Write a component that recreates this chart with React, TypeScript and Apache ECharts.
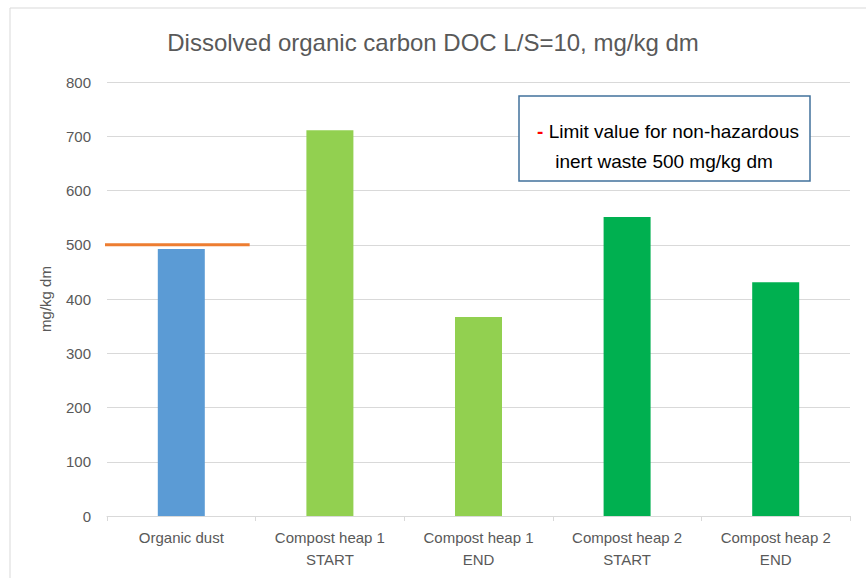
import React, { useEffect, useRef } from "react";
import * as echarts from "echarts";

const categories = [
  "Organic dust",
  "Compost heap 1\nSTART",
  "Compost heap 1\nEND",
  "Compost heap 2\nSTART",
  "Compost heap 2\nEND",
];
const values = [492, 711, 367, 551, 431];
const barColors = ["#5B9BD5", "#92D050", "#92D050", "#00B050", "#00B050"];
const limitValue = 500;
const limitSpan = [-0.05, 0.96];
const yTicks = { min: 0, max: 800, interval: 100 };

export default function App() {
  const ref = useRef<HTMLDivElement>(null);
  useEffect(() => {
    if (!ref.current) return;
    const chart = echarts.init(ref.current, null, { renderer: "svg" });
    const font = "'Liberation Sans', Arial, sans-serif";
    chart.setOption({
      animation: false,
      backgroundColor: "#fff",
      title: {
        text: "Dissolved organic carbon DOC L/S=10, mg/kg dm",
        left: "center",
        top: 25,
        textStyle: { color: "#595959", fontSize: 24, fontWeight: "normal", fontFamily: font },
      },
      grid: { left: 107, right: 16, top: 82, bottom: 62 },
      xAxis: [
        {
          type: "category",
          data: categories,
          axisLine: { lineStyle: { color: "#D9D9D9", width: 1 } },
          axisTick: { show: true, length: 5, lineStyle: { color: "#D9D9D9" } },
          axisLabel: { color: "#595959", fontSize: 15, fontFamily: font, lineHeight: 22, margin: 10 },
        },
        { type: "value", min: 0, max: 5, show: false },
      ],
      yAxis: {
        type: "value",
        min: yTicks.min,
        max: yTicks.max,
        interval: yTicks.interval,
        name: "mg/kg dm",
        nameLocation: "middle",
        nameGap: 54,
        nameRotate: 90,
        nameTextStyle: { color: "#595959", fontSize: 15, fontFamily: font },
        axisLine: { show: false },
        axisTick: { show: false },
        axisLabel: { color: "#595959", fontSize: 15, fontFamily: font, margin: 16 },
        splitLine: { lineStyle: { color: "#D9D9D9", width: 1 } },
      },
      series: [
        {
          type: "bar",
          data: values.map((v, i) => ({ value: v, itemStyle: { color: barColors[i] } })),
          barWidth: 47,
        },
        {
          type: "line",
          xAxisIndex: 1,
          clip: false,
          symbol: "none",
          data: limitSpan.map((x) => [x, limitValue]),
          lineStyle: { color: "#ED7D31", width: 3 },
          z: 5,
        },
      ],
      graphic: [
        {
          type: "rect",
          shape: { x: 10, y: 8, width: 900, height: 600 },
          style: { fill: "none", stroke: "#D9D9D9", lineWidth: 1 },
          z: -1,
        },
        {
          type: "rect",
          shape: { x: 519, y: 96, width: 291, height: 85 },
          style: { fill: "#fff", stroke: "#41719C", lineWidth: 1.5 },
          z: 10,
        },
        {
          type: "text",
          x: 668,
          y: 131,
          z: 11,
          style: {
            text: "{r|-} Limit value for non-hazardous",
            align: "center",
            verticalAlign: "middle",
            fill: "#000",
            fontSize: 19,
            fontFamily: font,
            rich: { r: { fill: "#FF0000", fontSize: 19, fontFamily: font, fontWeight: "bold" } },
          },
        },
        {
          type: "text",
          x: 664,
          y: 161,
          z: 11,
          style: {
            text: "inert waste 500 mg/kg dm",
            align: "center",
            verticalAlign: "middle",
            fill: "#000",
            fontSize: 19,
            fontFamily: font,
          },
        },
      ],
    });
    return () => chart.dispose();
  }, []);
  return (
    <div
      ref={ref}
      style={{ position: "fixed", left: 0, top: 0, width: 866, height: 578 }}
    />
  );
}
